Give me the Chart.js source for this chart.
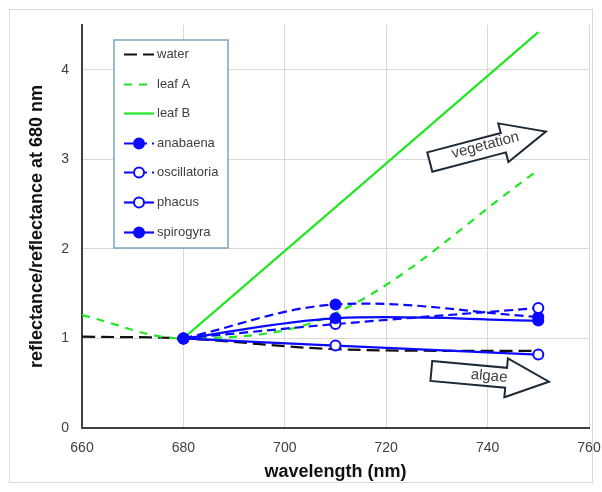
<!DOCTYPE html>
<html>
<head>
<meta charset="utf-8">
<script src="https://cdn.jsdelivr.net/npm/chart.js@4/dist/chart.umd.min.js"></script>
<style>
  html, body { margin: 0; padding: 0; background: #fff; }
  #wrap { width: 602px; height: 492px; }
</style>
</head>
<body>
<div id="wrap"><canvas id="chart" width="602" height="492"></canvas></div>
<script>
// wavelengths (nm) of the measured points
const wavelengthsFull = [660, 680, 710, 750]
const wavelengthsLeafB = [680, 750]
const wavelengthsAlgae = [680, 710, 750]

// reflectance / reflectance at 680 nm
const water = [1.02, 1.0, 0.88, 0.86]
const leafA = [1.26, 1.0, 1.28, 2.88]
const leafB = [1.0, 4.42]
const anabaena = [1.0, 1.38, 1.24]
const oscillatoria = [1.0, 1.16, 1.34]
const phacus = [1.0, 0.92, 0.82]
const spirogyra = [1.0, 1.225, 1.2]

const xTickValues = [660, 680, 700, 720, 740, 760]
const yTickValues = [0, 1, 2, 3, 4]

const FONT = '"Liberation Sans", Arial, sans-serif'
const BLUE = '#0a0aff'
const GREEN = '#22e622'

function toPoints(xs, ys) {
  return xs.map((x, i) => ({ x, y: ys[i] }))
}

function lineDataset(label, xs, ys, style) {
  return {
    label,
    data: toPoints(xs, ys),
    borderColor: style.color,
    backgroundColor: style.color,
    borderWidth: 2.2,
    borderDash: style.dash || [],
    tension: 0.35,
    pointRadius: style.marker ? 5 : 0,
    pointBorderWidth: 2,
    pointBorderColor: style.color,
    pointBackgroundColor: style.marker === 'open' ? '#ffffff' : style.color,
    order: style.order
  }
}

const datasets = [
  lineDataset('water', wavelengthsFull, water, { color: '#111111', dash: [13, 6], order: 7 }),
  lineDataset('leaf A', wavelengthsFull, leafA, { color: GREEN, dash: [8, 7], order: 6 }),
  lineDataset('leaf B', wavelengthsLeafB, leafB, { color: GREEN, order: 5 }),
  lineDataset('anabaena', wavelengthsAlgae, anabaena, { color: BLUE, dash: [9, 5], marker: 'filled', order: 4 }),
  lineDataset('oscillatoria', wavelengthsAlgae, oscillatoria, { color: BLUE, dash: [9, 5], marker: 'open', order: 3 }),
  lineDataset('phacus', wavelengthsAlgae, phacus, { color: BLUE, marker: 'open', order: 2 }),
  lineDataset('spirogyra', wavelengthsAlgae, spirogyra, { color: BLUE, marker: 'filled', order: 1 })
]

// annotation arrows, anchored in data units
const arrows = [
  { text: 'vegetation', from: [728.6, 2.97], to: [751.5, 3.31], bodyHalf: 10, headHalf: 20, headLen: 44, textAlong: 58, textPerp: -2 },
  { text: 'algae', from: [728.9, 0.637], to: [752.1, 0.517], bodyHalf: 10, headHalf: 19.5, headLen: 43, textAlong: 58, textPerp: 0 }
]

const frame = {
  id: 'frame',
  beforeDraw(chart) {
    const { ctx, width, height } = chart
    ctx.save()
    ctx.fillStyle = '#ffffff'
    ctx.fillRect(0, 0, width, height)
    ctx.strokeStyle = '#d9d9d9'
    ctx.lineWidth = 1
    ctx.strokeRect(9.5, 9.5, width - 19, height - 19)
    ctx.restore()
  }
}

function drawBlockArrow(ctx, x0, y0, x1, y1, a) {
  const len = Math.hypot(x1 - x0, y1 - y0)
  const ang = Math.atan2(y1 - y0, x1 - x0)
  const b = len - a.headLen
  ctx.save()
  ctx.translate(x0, y0)
  ctx.rotate(ang)
  ctx.beginPath()
  ctx.moveTo(0, -a.bodyHalf)
  ctx.lineTo(b, -a.bodyHalf)
  ctx.lineTo(b, -a.headHalf)
  ctx.lineTo(len, 0)
  ctx.lineTo(b, a.headHalf)
  ctx.lineTo(b, a.bodyHalf)
  ctx.lineTo(0, a.bodyHalf)
  ctx.closePath()
  ctx.fillStyle = '#ffffff'
  ctx.fill()
  ctx.strokeStyle = '#1c2a38'
  ctx.lineWidth = 2
  ctx.lineJoin = 'miter'
  ctx.stroke()
  ctx.fillStyle = '#404040'
  ctx.font = `15px ${FONT}`
  ctx.textAlign = 'center'
  ctx.textBaseline = 'middle'
  ctx.fillText(a.text, a.textAlong, a.textPerp)
  ctx.restore()
}

const annotations = {
  id: 'annotations',
  afterDatasetsDraw(chart) {
    const { ctx, scales: { x, y } } = chart
    arrows.forEach((a) => {
      drawBlockArrow(ctx,
        x.getPixelForValue(a.from[0]), y.getPixelForValue(a.from[1]),
        x.getPixelForValue(a.to[0]), y.getPixelForValue(a.to[1]), a)
    })
  }
}

const boxLegend = {
  id: 'boxLegend',
  afterDraw(chart) {
    const { ctx } = chart
    const left = 114, top = 40, w = 114, h = 208
    const rowTop = 54, rowStep = 29.6
    ctx.save()
    ctx.fillStyle = '#ffffff'
    ctx.fillRect(left, top, w, h)
    ctx.strokeStyle = '#7ba6bd'
    ctx.lineWidth = 1.5
    ctx.strokeRect(left, top, w, h)
    ctx.font = `13px ${FONT}`
    ctx.textBaseline = 'middle'
    ctx.textAlign = 'left'
    chart.data.datasets.forEach((ds, i) => {
      const cy = Math.round(rowTop + i * rowStep) + 0.5
      ctx.strokeStyle = ds.borderColor
      ctx.lineWidth = ds.borderWidth
      ctx.setLineDash(ds.borderDash)
      ctx.beginPath()
      ctx.moveTo(124, cy)
      ctx.lineTo(154, cy)
      ctx.stroke()
      ctx.setLineDash([])
      if (ds.pointRadius > 0) {
        ctx.beginPath()
        ctx.arc(139, cy, ds.pointRadius, 0, Math.PI * 2)
        ctx.fillStyle = ds.pointBackgroundColor
        ctx.fill()
        ctx.lineWidth = ds.pointBorderWidth
        ctx.strokeStyle = ds.pointBorderColor
        ctx.stroke()
      }
      ctx.fillStyle = '#404040'
      ctx.fillText(ds.label, 157, cy)
    })
    ctx.restore()
  }
}

new Chart(document.getElementById('chart'), {
  type: 'line',
  data: { datasets },
  plugins: [frame, annotations, boxLegend],
  options: {
    responsive: false,
    animation: false,
    devicePixelRatio: 1,
    layout: { padding: { top: 25, right: 0, left: 0, bottom: 0 } },
    plugins: {
      legend: { display: false },
      tooltip: { enabled: false }
    },
    scales: {
      x: {
        type: 'linear',
        min: 660,
        max: 760,
        afterBuildTicks: (scale) => { scale.ticks = xTickValues.map((value) => ({ value })) },
        afterFit: (scale) => {
          scale.height = 64
          scale.paddingRight = 13
        },
        grid: { color: '#d9d9d9', drawTicks: false },
        border: { color: '#404040', width: 2 },
        ticks: { padding: 12, color: '#404040', font: { family: FONT, size: 14 } },
        title: {
          display: true,
          text: 'wavelength (nm)',
          color: '#111111',
          font: { family: FONT, size: 18, weight: 'bold' },
          padding: { bottom: 9 }
        }
      },
      y: {
        type: 'linear',
        min: 0,
        max: 4.5,
        afterBuildTicks: (scale) => { scale.ticks = yTickValues.map((value) => ({ value })) },
        afterFit: (scale) => { scale.width = 82 },
        grid: { color: '#d9d9d9', drawTicks: false },
        border: { color: '#404040', width: 2 },
        ticks: { padding: 13, color: '#404040', font: { family: FONT, size: 14 } },
        title: {
          display: true,
          text: 'reflectance/reflectance at 680 nm',
          color: '#111111',
          font: { family: FONT, size: 18, weight: 'bold' },
          padding: { top: 26 }
        }
      }
    }
  }
})
</script>
</body>
</html>
